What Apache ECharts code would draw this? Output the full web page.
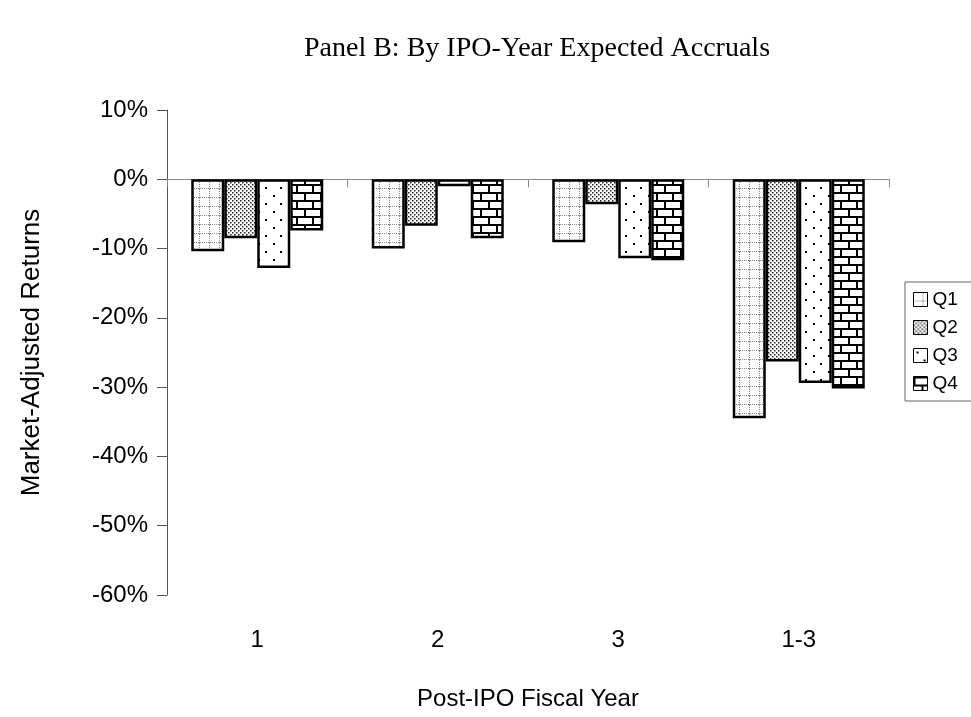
<!DOCTYPE html>
<html>
<head>
<meta charset="utf-8">
<title>Panel B</title>
<script src="https://cdn.jsdelivr.net/npm/echarts@6/dist/echarts.min.js"></script>
<style>
  html, body { margin: 0; padding: 0; background: #fff; }
</style>
</head>
<body>
<div id="main" style="width: 971px; height: 717px;"></div>
<script type="text/javascript">
// data (market-adjusted returns, percent)
var years = ['1', '2', '3', '1-3'];
var quartiles = ['Q1', 'Q2', 'Q3', 'Q4'];
var q1 = [-10.4, -10.0, -9.1, -34.5];
var q2 = [-8.5, -6.7, -3.6, -26.3];
var q3 = [-12.8, -1.0, -11.4, -29.4];
var q4 = [-7.4, -8.5, -11.7, -30.2];
var yTicks = { min: -60, max: 10, step: 10 };

// hatch fills, drawn once onto small canvases
function tile(w, h, draw) {
  var c = document.createElement('canvas');
  c.width = w; c.height = h;
  var g = c.getContext('2d');
  g.fillStyle = '#fff';
  g.fillRect(0, 0, w, h);
  draw(g, w, h);
  return c;
}
var fillQ1 = tile(10, 9, function (g, w, h) {
  g.fillStyle = '#8a8a8a';
  for (var x = 0; x < w; x += 2) g.fillRect(x, h - 1, 1, 1);
  for (var y = 0; y < h; y += 2) g.fillRect(w - 1, y, 1, 1);
});
var fillQ2 = tile(4, 4, function (g) {
  g.fillStyle = '#222';
  g.fillRect(0, 0, 1.5, 1.5);
  g.fillRect(2, 2, 1.5, 1.5);
});
var fillQ3 = tile(15, 16, function (g) {
  g.fillStyle = '#000';
  g.fillRect(3, 3, 2, 2);
  g.fillRect(10, 11, 2, 2);
});
var fillQ4 = tile(16, 16, function (g) {
  g.fillStyle = '#000';
  g.fillRect(0, 0, 16, 2);
  g.fillRect(0, 8, 16, 2);
  g.fillRect(0, 0, 2, 8);
  g.fillRect(8, 8, 2, 8);
});
var fills = [fillQ1, fillQ2, fillQ3, fillQ4];
var values = [q1, q2, q3, q4];

var myChart = echarts.init(document.getElementById('main'));

var series = quartiles.map(function (name, i) {
  return {
    name: name,
    type: 'bar',
    xAxisIndex: 0,
    barWidth: 33,
    barGap: '0%',
    data: values[i],
    itemStyle: {
      color: { image: fills[i], repeat: 'repeat' },
      borderColor: '#000',
      borderWidth: 2.5
    }
  };
});

var option = {
  animation: false,
  backgroundColor: '#fff',
  title: {
    text: 'Panel B: By IPO-Year Expected Accruals',
    left: 532,
    textAlign: 'center',
    top: 30,
    textStyle: {
      fontFamily: 'Liberation Serif',
      fontWeight: 'normal',
      fontSize: 28,
      color: '#000'
    }
  },
  legend: {
    orient: 'vertical',
    left: 905,
    top: 282,
    data: quartiles,
    icon: 'rect',
    itemWidth: 14,
    itemHeight: 14,
    itemGap: 9,
    padding: [8, 20, 8, 8],
    borderColor: '#666',
    borderWidth: 1,
    itemStyle: { borderColor: '#000', borderWidth: 1 },
    textStyle: { fontFamily: 'Liberation Sans', fontSize: 19, color: '#000' }
  },
  grid: { left: 167, right: 82, top: 110, bottom: 122 },
  xAxis: [{
    type: 'category',
    data: years,
    axisLine: { onZero: true, lineStyle: { color: '#888', width: 1 } },
    axisTick: { show: true, length: 8, lineStyle: { color: '#888' } },
    axisLabel: { show: false }
  }, {
    type: 'category',
    data: years,
    position: 'bottom',
    axisLine: { show: false, onZero: false },
    axisTick: { show: false },
    axisLabel: {
      margin: 33,
      fontFamily: 'Liberation Sans',
      fontSize: 24,
      color: '#000'
    },
    name: 'Post-IPO Fiscal Year',
    nameLocation: 'middle',
    nameGap: 92,
    nameTextStyle: { fontFamily: 'Liberation Sans', fontSize: 24, color: '#000' }
  }],
  yAxis: {
    type: 'value',
    min: yTicks.min,
    max: yTicks.max,
    interval: yTicks.step,
    axisLine: { show: true, lineStyle: { color: '#555', width: 1 } },
    axisTick: { show: true, length: 10, lineStyle: { color: '#555' } },
    splitLine: { show: false },
    axisLabel: {
      margin: 19,
      formatter: '{value}%',
      fontFamily: 'Liberation Sans',
      fontSize: 24,
      color: '#000'
    },
    name: 'Market-Adjusted Returns',
    nameLocation: 'middle',
    nameGap: 122,
    nameTextStyle: { fontFamily: 'Liberation Sans', fontSize: 26, color: '#000' }
  },
  series: series
};
myChart.setOption(option);
</script>
</body>
</html>
